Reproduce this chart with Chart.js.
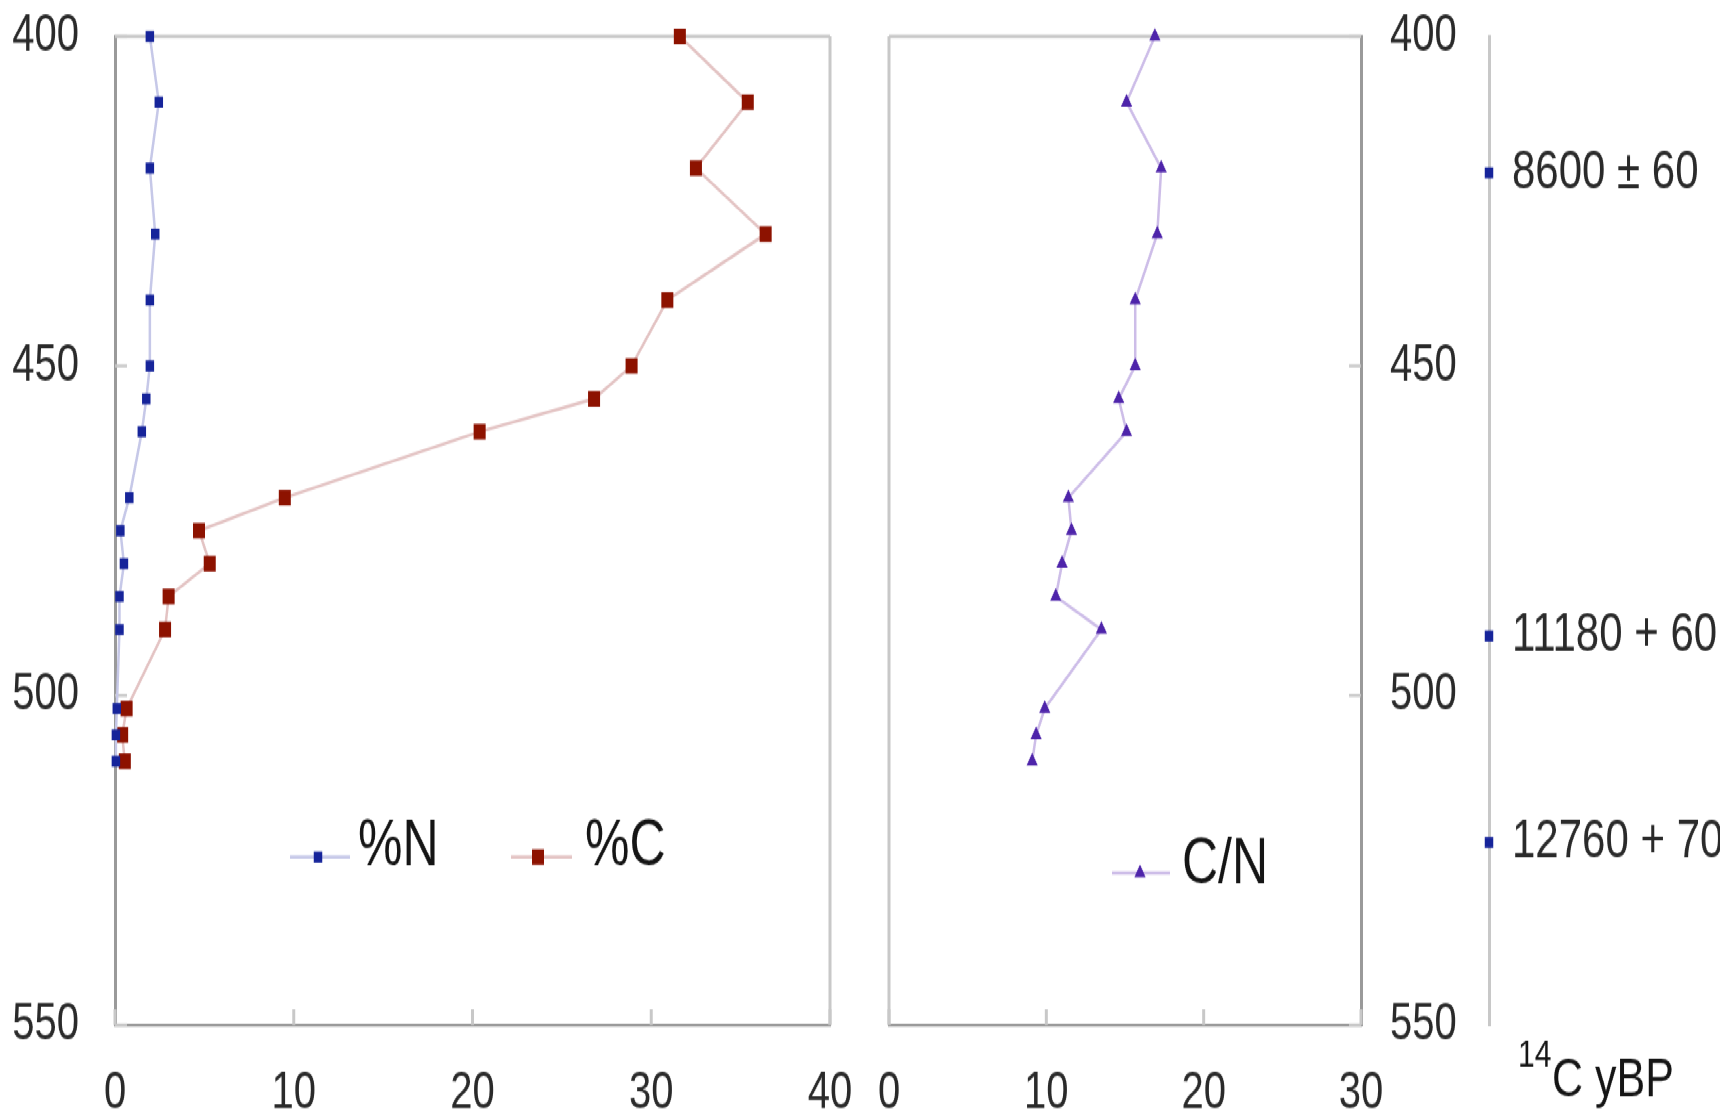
<!DOCTYPE html>
<html>
<head>
<meta charset="utf-8">
<script src="https://cdn.jsdelivr.net/npm/chart.js@4.4.1/dist/chart.umd.min.js"></script>
<style>
html,body{margin:0;padding:0;background:#fff;overflow:hidden;width:1720px;height:1112px;}
#wrap{position:absolute;left:0;top:0;width:1720px;height:856px;transform:scaleY(1.29907);transform-origin:0 0;}
#wrap canvas{position:absolute;top:0;}
</style>
</head>
<body>
<div id="wrap">
<canvas id="c1" width="860" height="856" style="left:0px;width:860px;height:856px"></canvas>
<canvas id="c2" width="620" height="856" style="left:860px;width:620px;height:856px"></canvas>
<canvas id="c3" width="300" height="856" style="left:1420px;width:300px;height:856px"></canvas>
</div>
<script>
// ---- data ----
const depth   = [400, 410, 420, 430, 440, 450, 455, 460, 470, 475, 480, 485, 490, 502, 506, 510];
const pctN    = [1.95, 2.45, 1.95, 2.25, 1.95, 1.95, 1.75, 1.5, 0.8, 0.3, 0.5, 0.25, 0.25, 0.1, 0.05, 0.05];
const pctC    = [31.6, 35.4, 32.5, 36.4, 30.9, 28.9, 26.8, 20.4, 9.5, 4.7, 5.3, 3.0, 2.8, 0.65, 0.4, 0.55];
const ratioCN = [16.9, 15.1, 17.3, 17.05, 15.65, 15.65, 14.6, 15.1, 11.4, 11.6, 11.0, 10.6, 13.5, 9.9, 9.35, 9.1];
const seriesNames = ['%N', '%C', 'C/N'];
const depthTicks = [400, 450, 500, 550];
const leftXTicks = [0, 10, 20, 30, 40];
const cnXTicks   = [0, 10, 20, 30];
const dateDepths = [420.7, 491, 522.3];
const dateLabels = ['8600 \u00B1 60', '11180 + 60', '12760 + 70'];
const dateTitleSup = '14';
const dateTitle = 'C yBP';

// ---- styles ----
const FONT = '"Liberation Sans", Arial, Helvetica, sans-serif';
const S = 1112 / 856;              // vertical stretch applied by CSS
const DARK_AXIS = '#9a9a9a';
const LIGHT = '#c8c8c8';
const TEXT = '#2a2a2a';

Chart.defaults.font.family = FONT;
Chart.defaults.color = TEXT;
Chart.defaults.animation = false;

function pts(xs, ys) { return xs.map((v, i) => ({ x: v, y: ys[i] })); }
function noPad(s) { s.paddingTop = 0; s.paddingBottom = 0; s.paddingLeft = 0; s.paddingRight = 0; }

function marker(ctx, style, r, x, y) {
  ctx.beginPath();
  if (style === 'triangle') {
    for (let k = 0; k < 3; k++) {
      const a = k * 2 * Math.PI / 3;
      const px = x + Math.sin(a) * r, py = y - Math.cos(a) * r;
      k ? ctx.lineTo(px, py) : ctx.moveTo(px, py);
    }
    ctx.closePath();
  } else {
    const s = Math.SQRT1_2 * r;
    ctx.rect(x - s, y - s, 2 * s, 2 * s);
  }
  ctx.fill();
}

const framePlugin = {
  id: 'frame',
  beforeDatasetsDraw(chart, args, o) {
    if (!o || !o.on) return;
    const ctx = chart.ctx, a = chart.chartArea;
    const ys = chart.scales.y, xs = chart.scales.x;
    ctx.save();
    ctx.strokeStyle = LIGHT;
    ctx.lineWidth = 3 / S;
    ctx.beginPath(); ctx.moveTo(a.left, a.top); ctx.lineTo(a.right, a.top); ctx.stroke();
    ctx.lineWidth = 3;
    const vx = o.axisSide === 'left' ? a.right : a.left;
    ctx.beginPath(); ctx.moveTo(vx, a.top); ctx.lineTo(vx, a.bottom); ctx.stroke();
    // inner tick marks
    const ax = o.axisSide === 'left' ? a.left : a.right;
    const dir = o.axisSide === 'left' ? 1 : -1;
    ctx.lineWidth = 3 / S;
    ys.ticks.forEach(t => {
      const py = ys.getPixelForValue(t.value);
      ctx.beginPath(); ctx.moveTo(ax, py); ctx.lineTo(ax + dir * 12, py); ctx.stroke();
    });
    ctx.lineWidth = 3;
    xs.ticks.forEach(t => {
      const px = xs.getPixelForValue(t.value);
      ctx.beginPath(); ctx.moveTo(px, a.bottom); ctx.lineTo(px, a.bottom - 12); ctx.stroke();
    });
    ctx.restore();
  },
  afterDatasetsDraw(chart, args, o) {
    if (!o || !o.legend) return;
    const ctx = chart.ctx;
    o.legend.forEach(it => {
      const ds = chart.data.datasets[it.ds];
      ctx.save();
      ctx.strokeStyle = ds.borderColor;
      ctx.lineWidth = ds.borderWidth;
      ctx.beginPath(); ctx.moveTo(it.x0, it.ly); ctx.lineTo(it.x1, it.ly); ctx.stroke();
      ctx.fillStyle = ds.pointBackgroundColor;
      marker(ctx, ds.pointStyle, ds.pointRadius, it.mx, it.ly);
      ctx.fillStyle = '#151515';
      ctx.font = '50px ' + FONT;
      ctx.textBaseline = 'alphabetic';
      ctx.textAlign = 'left';
      ctx.fillText(ds.label, it.tx, it.ty);
      ctx.restore();
    });
  }
};
Chart.register(framePlugin);

function yScale(position, width) {
  return {
    type: 'linear', position: position, reverse: true, min: 400, max: 550,
    afterBuildTicks: s => { s.ticks = depthTicks.map(v => ({ value: v })); },
    afterFit: s => { s.width = width; noPad(s); },
    grid: { display: false, drawTicks: false },
    border: { display: true, color: DARK_AXIS, width: 3 },
    ticks: { font: { size: 40 }, padding: position === 'left' ? 36 : 29, color: TEXT }
  };
}
function xScale(max, list) {
  return {
    type: 'linear', position: 'bottom', min: 0, max: max,
    afterBuildTicks: s => { s.ticks = list.map(v => ({ value: v })); },
    afterFit: s => { s.height = 67; noPad(s); },
    grid: { display: false, drawTicks: false },
    border: { display: true, color: DARK_AXIS, width: 3 / S },
    ticks: { font: { size: 40 }, padding: 29, color: TEXT, maxRotation: 0, autoSkip: false }
  };
}

const lineN = {
  label: seriesNames[0], data: pts(pctN, depth), showLine: true,
  borderColor: '#c6c8e8', borderWidth: 2.5,
  pointStyle: 'rect', pointRadius: 6, pointHoverRadius: 6,
  pointBackgroundColor: '#16249a', pointBorderWidth: 0, clip: false
};
const lineC = {
  label: seriesNames[1], data: pts(pctC, depth), showLine: true,
  borderColor: '#e3c3c3', borderWidth: 2.5,
  pointStyle: 'rect', pointRadius: 8.5, pointHoverRadius: 8.5,
  pointBackgroundColor: '#8d1200', pointBorderWidth: 0, clip: false
};
const lineCN = {
  label: seriesNames[2], data: pts(ratioCN, depth), showLine: true,
  borderColor: '#cdbde8', borderWidth: 2.5,
  pointStyle: 'triangle', pointRadius: 6.5, pointHoverRadius: 6.5,
  pointBackgroundColor: '#4e24aa', pointBorderWidth: 0, clip: false
};

new Chart(document.getElementById('c1'), {
  type: 'scatter',
  data: { datasets: [lineN, lineC] },
  options: {
    responsive: false, devicePixelRatio: 1,
    layout: { padding: { left: 0, right: 30, top: 28, bottom: 0 } },
    scales: { x: xScale(40, leftXTicks), y: yScale('left', 115) },
    plugins: {
      legend: { display: false }, tooltip: { enabled: false },
      frame: {
        on: true, axisSide: 'left',
        legend: [
          { ds: 0, x0: 290, x1: 350, mx: 318, ly: 857 / S, tx: 358, ty: 865 / S },
          { ds: 1, x0: 511, x1: 572, mx: 538, ly: 857 / S, tx: 585, ty: 865 / S }
        ]
      }
    }
  }
});

new Chart(document.getElementById('c2'), {
  type: 'scatter',
  data: { datasets: [lineCN] },
  options: {
    responsive: false, devicePixelRatio: 1,
    layout: { padding: { left: 29, right: 0, top: 28, bottom: 0 } },
    scales: { x: xScale(30, cnXTicks), y: yScale('right', 119) },
    plugins: {
      legend: { display: false }, tooltip: { enabled: false },
      frame: {
        on: true, axisSide: 'right',
        legend: [
          { ds: 0, x0: 252, x1: 310, mx: 280, ly: 873 / S, tx: 322, ty: 883 / S }
        ]
      }
    }
  }
});

const datePlugin = {
  id: 'dates',
  afterDatasetsDraw(chart) {
    const ctx = chart.ctx, ys = chart.scales.y;
    ctx.save();
    ctx.fillStyle = TEXT;
    ctx.textAlign = 'left';
    ctx.textBaseline = 'middle';
    ctx.font = '42px ' + FONT;
    dateDepths.forEach((d, i) => ctx.fillText(dateLabels[i], 92, ys.getPixelForValue(d)));
    ctx.textBaseline = 'alphabetic';
    ctx.fillStyle = '#151515';
    ctx.font = '30px ' + FONT;
    ctx.fillText(dateTitleSup, 98, 1067 / S);
    ctx.font = '43px ' + FONT;
    ctx.fillText(dateTitle, 132, 1097 / S);
    ctx.restore();
  }
};

new Chart(document.getElementById('c3'), {
  type: 'scatter',
  data: { datasets: [{
    label: '14C', data: dateDepths.map(d => ({ x: 0, y: d })),
    pointStyle: 'rect', pointRadius: 6, pointHoverRadius: 6,
    pointBackgroundColor: '#16249a', pointBorderWidth: 0, clip: false
  }] },
  options: {
    responsive: false, devicePixelRatio: 1,
    layout: { padding: { left: 0, right: 0, top: 28, bottom: 67 } },
    scales: {
      x: { type: 'linear', min: 0, max: 1, display: false },
      y: {
        type: 'linear', position: 'left', reverse: true, min: 400, max: 550,
        afterFit: s => { s.width = 69; noPad(s); },
        grid: { display: false, drawTicks: false },
        border: { display: true, color: LIGHT, width: 3 },
        ticks: { display: false }
      }
    },
    plugins: { legend: { display: false }, tooltip: { enabled: false } }
  },
  plugins: [datePlugin]
});
</script>
</body>
</html>
